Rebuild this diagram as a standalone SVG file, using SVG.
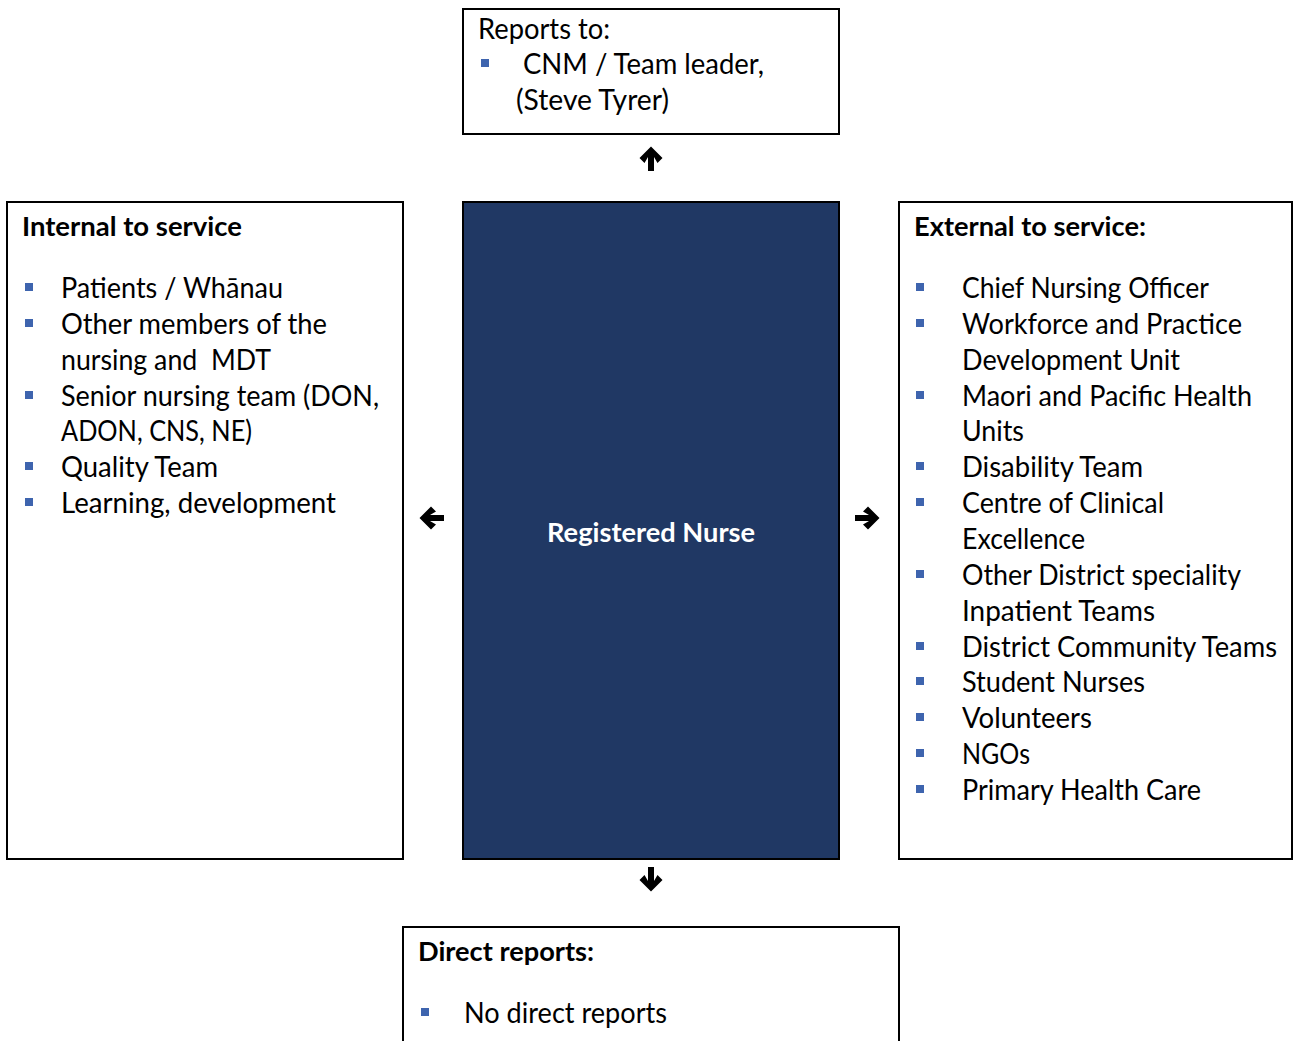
<svg xmlns="http://www.w3.org/2000/svg" width="1293" height="1041" viewBox="0 0 1293 1041">
<style>
.box{fill:#fff;stroke:#000;stroke-width:2}
.t{font-family:Lato,"Liberation Sans",sans-serif;font-size:28px;fill:#000}
.b{font-family:Lato,"Liberation Sans",sans-serif;font-size:27px;font-weight:bold;fill:#000}
.bul{fill:#3E64AE}
.arr{fill:#000}
</style>
<defs>
<path id="ar" d="M12.5,0 L1,-11.5 L-4,-6.5 L2,-3 L-12,-3 L-12,3 L2,3 L-4,6.5 L1,11.5 Z"/>
</defs>
<rect width="1293" height="1041" fill="#fff"/>
<g id="reports-to">
<rect class="box" x="463" y="9" width="376" height="125"/>
<text class="t" x="478" y="39" textLength="132" lengthAdjust="spacingAndGlyphs">Reports to:</text>
<rect class="bul" x="481" y="59" width="8" height="8"/>
<text class="t" x="523" y="74" textLength="241" lengthAdjust="spacingAndGlyphs">CNM / Team leader,</text>
<text class="t" x="516" y="110" textLength="153" lengthAdjust="spacingAndGlyphs">(Steve Tyrer)</text>
</g>
<g id="internal">
<rect class="box" x="7" y="202" width="396" height="657"/>
<text class="b" x="22" y="236" textLength="220" lengthAdjust="spacingAndGlyphs">Internal to service</text>
<rect class="bul" x="25" y="283" width="8" height="8"/>
<text class="t" x="61" y="298" textLength="222" lengthAdjust="spacingAndGlyphs">Patients / Whānau</text>
<rect class="bul" x="25" y="319" width="8" height="8"/>
<text class="t" x="61" y="334" textLength="266" lengthAdjust="spacingAndGlyphs">Other members of the</text>
<text class="t" x="61" y="370" textLength="210" lengthAdjust="spacingAndGlyphs" xml:space="preserve">nursing and  MDT</text>
<rect class="bul" x="25" y="391" width="8" height="8"/>
<text class="t" x="61" y="406" textLength="318" lengthAdjust="spacingAndGlyphs">Senior nursing team (DON,</text>
<text class="t" x="61" y="441" textLength="191" lengthAdjust="spacingAndGlyphs">ADON, CNS, NE)</text>
<rect class="bul" x="25" y="462" width="8" height="8"/>
<text class="t" x="61" y="477" textLength="157" lengthAdjust="spacingAndGlyphs">Quality Team</text>
<rect class="bul" x="25" y="498" width="8" height="8"/>
<text class="t" x="61" y="513" textLength="275" lengthAdjust="spacingAndGlyphs">Learning, development</text>
</g>
<g id="registered-nurse">
<rect x="463" y="202" width="376" height="657" fill="#203864" stroke="#000" stroke-width="2"/>
<text class="b" x="651" y="542" text-anchor="middle" style="fill:#fff" textLength="208" lengthAdjust="spacingAndGlyphs">Registered Nurse</text>
</g>
<g id="external">
<rect class="box" x="899" y="202" width="393" height="657"/>
<text class="b" x="914" y="236" textLength="232" lengthAdjust="spacingAndGlyphs">External to service:</text>
<rect class="bul" x="916" y="283" width="8" height="8"/>
<text class="t" x="962" y="298" textLength="247" lengthAdjust="spacingAndGlyphs">Chief Nursing Officer</text>
<rect class="bul" x="916" y="319" width="8" height="8"/>
<text class="t" x="962" y="334" textLength="280" lengthAdjust="spacingAndGlyphs">Workforce and Practice</text>
<text class="t" x="962" y="370" textLength="218" lengthAdjust="spacingAndGlyphs">Development Unit</text>
<rect class="bul" x="916" y="391" width="8" height="8"/>
<text class="t" x="962" y="406" textLength="290" lengthAdjust="spacingAndGlyphs">Maori and Pacific Health</text>
<text class="t" x="962" y="441" textLength="62" lengthAdjust="spacingAndGlyphs">Units</text>
<rect class="bul" x="916" y="462" width="8" height="8"/>
<text class="t" x="962" y="477" textLength="181" lengthAdjust="spacingAndGlyphs">Disability Team</text>
<rect class="bul" x="916" y="498" width="8" height="8"/>
<text class="t" x="962" y="513" textLength="202" lengthAdjust="spacingAndGlyphs">Centre of Clinical</text>
<text class="t" x="962" y="549" textLength="123" lengthAdjust="spacingAndGlyphs">Excellence</text>
<rect class="bul" x="916" y="570" width="8" height="8"/>
<text class="t" x="962" y="585" textLength="279" lengthAdjust="spacingAndGlyphs">Other District speciality</text>
<text class="t" x="962" y="621" textLength="193" lengthAdjust="spacingAndGlyphs">Inpatient Teams</text>
<rect class="bul" x="916" y="642" width="8" height="8"/>
<text class="t" x="962" y="657" textLength="315" lengthAdjust="spacingAndGlyphs">District Community Teams</text>
<rect class="bul" x="916" y="677" width="8" height="8"/>
<text class="t" x="962" y="692" textLength="183" lengthAdjust="spacingAndGlyphs">Student Nurses</text>
<rect class="bul" x="916" y="713" width="8" height="8"/>
<text class="t" x="962" y="728" textLength="130" lengthAdjust="spacingAndGlyphs">Volunteers</text>
<rect class="bul" x="916" y="749" width="8" height="8"/>
<text class="t" x="962" y="764" textLength="68" lengthAdjust="spacingAndGlyphs">NGOs</text>
<rect class="bul" x="916" y="785" width="8" height="8"/>
<text class="t" x="962" y="800" textLength="239" lengthAdjust="spacingAndGlyphs">Primary Health Care</text>
</g>
<g id="direct-reports">
<rect class="box" x="403" y="927" width="496" height="130"/>
<text class="b" x="418" y="961" textLength="176" lengthAdjust="spacingAndGlyphs">Direct reports:</text>
<rect class="bul" x="421" y="1008" width="8" height="8"/>
<text class="t" x="464" y="1023" textLength="203" lengthAdjust="spacingAndGlyphs">No direct reports</text>
</g>
<g id="connectors">
<use href="#ar" class="arr" transform="translate(651,159) rotate(-90)"/>
<use href="#ar" class="arr" transform="translate(432,518) rotate(180)"/>
<use href="#ar" class="arr" transform="translate(867,518)"/>
<use href="#ar" class="arr" transform="translate(651,879) rotate(90)"/>
</g>
</svg>
